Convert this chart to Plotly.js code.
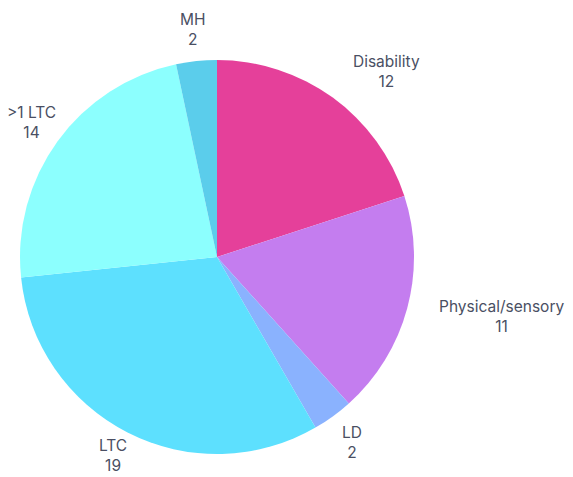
<!DOCTYPE html>
<html><head><meta charset="utf-8">
<script src="https://cdn.plot.ly/plotly-3.0.1.min.js"></script>
<style>html,body{margin:0;padding:0;background:#fff}#chart{width:573px;height:477px}</style>
</head><body><div id="chart"></div>
<script>
const labels = ["Disability", "Physical/sensory", "LD", "LTC", ">1 LTC", "MH"];
const values = [12, 11, 2, 19, 14, 2];
const colors = ["#E5409A", "#C47DEF", "#8AB2FE", "#5DE0FE", "#8CFFFE", "#5BCDEB"];

const W = 573, H = 477;
const M = {l: 20, r: 159, t: 60, b: 23};
const FONT = "Inter, 'Open Sans', sans-serif";
const FS = 15.5;
const pw = W - M.l - M.r, ph = H - M.t - M.b;
const R0 = Math.min(pw, ph) / 2;
const cx = M.l + pw / 2, cy = M.t + ph / 2;
const RL = R0 + 32;

const ctx = document.createElement("canvas").getContext("2d");
ctx.font = FS + "px Inter";
const total = values.reduce((a, b) => a + b, 0);
let cum = 0;
const annotations = labels.map((lab, i) => {
  const mid = (cum + values[i] / 2) / total * 2 * Math.PI;
  cum += values[i];
  const sx = Math.sin(mid), sy = -Math.cos(mid);
  const hw = Math.max(ctx.measureText(lab).width, ctx.measureText(String(values[i])).width) / 2;
  const hh = 18;
  const px = cx + sx * RL;
  const py = Math.min(Math.max(cy + sy * RL, hh + 4), H - hh - 4);
  // if a centred label would overlap the pie, anchor it away from the pie
  const corners = [[px - hw, py - hh], [px + hw, py - hh], [px - hw, py + hh], [px + hw, py + hh]];
  const overlaps = corners.some(([x, y]) => Math.hypot(x - cx, y - cy) < R0);
  const xanchor = overlaps ? (sx > 0 ? "left" : "right") : "center";
  return {
    text: lab + "<br>" + values[i], showarrow: false, xref: "paper", yref: "paper",
    x: (px - M.l) / pw, y: 1 - (py - M.t) / ph,
    xanchor: xanchor, yanchor: "middle", borderpad: 0,
    font: {family: FONT, size: FS, color: "#4A4F63"}
  };
});

Plotly.newPlot("chart", [{
  type: "pie",
  labels: labels,
  values: values,
  sort: false,
  direction: "clockwise",
  rotation: 0,
  marker: {colors: colors, line: {width: 0}},
  textinfo: "none",
  hoverinfo: "none",
  showlegend: false
}], {
  width: W, height: H,
  margin: M,
  paper_bgcolor: "#fff",
  showlegend: false,
  annotations: annotations
}, {displayModeBar: false, staticPlot: true});
</script></body></html>
